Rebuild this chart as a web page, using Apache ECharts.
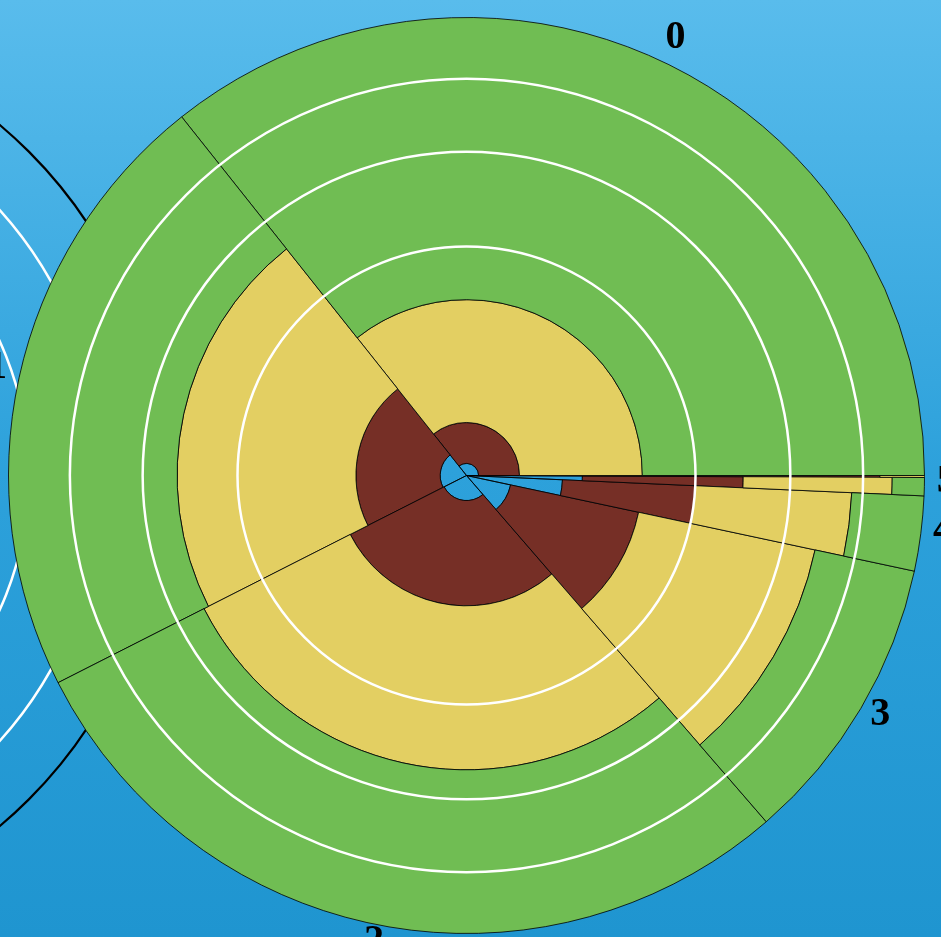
<!DOCTYPE html>
<html>
<head>
<meta charset="utf-8">
<script src="https://cdn.jsdelivr.net/npm/echarts@6/dist/echarts.min.js"></script>
<style>html,body{margin:0;padding:0;overflow:hidden;}#c{width:941px;height:937px;}</style>
</head>
<body>
<div id="c"></div>
<script>
// ---- data (percent shares) ----
const categories = ['0', '1', '2', '3', '4', '5', '6'];
const categoryWidths = [35.7, 21.8, 28.9, 10.3, 2.64, 0.64, 0.07];
const blueValues   = [0.07, 0.33, 0.3, 0.97, 4.4, 6.4, 6.3];
const brownValues  = [1.27, 5.5, 7.8, 13.8, 20.6, 30.1, 75.2];
const yellowValues = [13.4, 34.1, 33.2, 45.8, 45.9, 49.9, 18.5];
const greenValues  = [85.26, 60.07, 58.7, 39.43, 29.1, 13.6, 0];
const ringLevels = [25, 50, 75];
const outerLevel = [100];

const stackSeries = [
  { name: 's1', values: blueValues,   fill: 'rgba(0,0,0,0)' },
  { name: 's2', values: brownValues,  fill: '#762f26' },
  { name: 's3', values: yellowValues, fill: '#e3cf62' },
  { name: 's4', values: greenValues,  fill: '#70bd53' }
];

const totalWidth = categoryWidths.reduce((a, b) => a + b, 0);
const angleStarts = [];
(function () { let s = 0; categoryWidths.forEach(w => { angleStarts.push(s); s += w; }); })();

// radial axis is area proportional: axis runs in sqrt(percent) units 0..10
function rad(v) { return Math.sqrt(Math.max(v, 0)); }
function dist(p, c) { return Math.hypot(p[0] - c[0], p[1] - c[1]); }
function ang(p, c) { return Math.atan2(p[1] - c[1], p[0] - c[0]); }

function makeStack(si) {
  const s = stackSeries[si];
  const data = categories.map((c, i) => {
    let base = 0;
    for (let k = 0; k < si; k++) base += stackSeries[k].values[i];
    return [rad(base + s.values[i]), angleStarts[i] + categoryWidths[i] / 2, i, base, base + s.values[i]];
  });
  return {
    type: 'custom', name: s.name, coordinateSystem: 'polar', polarIndex: 0,
    z: 2 + si, silent: true, clip: false,
    data: data,
    renderItem: function (params, api) {
      const i = api.value(2), base = api.value(3), top = api.value(4);
      if (top - base <= 0) return null;
      const a1 = angleStarts[i], a2 = a1 + categoryWidths[i];
      const c = api.coord([0, a1]);
      const r0 = dist(api.coord([rad(base), a1]), c);
      const r1 = dist(api.coord([rad(top), a1]), c);
      let sa = ang(api.coord([10, a2]), c);
      let ea = ang(api.coord([10, a1]), c);
      while (ea < sa) ea += Math.PI * 2;
      return {
        type: 'sector',
        shape: { cx: c[0], cy: c[1], r0: r0, r: r1, startAngle: sa, endAngle: ea, clockwise: true },
        style: { fill: s.fill, stroke: '#000', lineWidth: 0.8 }
      };
    }
  };
}

function ringSeries(polarIndex, levels, color, width, z) {
  return {
    type: 'custom', coordinateSystem: 'polar', polarIndex: polarIndex, z: z, silent: true, clip: false,
    data: levels.map(v => [rad(v), 0, v]),
    renderItem: function (params, api) {
      const v = api.value(2);
      const c = api.coord([0, 0]);
      const r = dist(api.coord([rad(v), 0]), c);
      return { type: 'circle', shape: { cx: c[0], cy: c[1], r: r },
        style: { fill: 'none', stroke: color, lineWidth: width } };
    }
  };
}

const labelSeries = {
  type: 'custom', coordinateSystem: 'polar', polarIndex: 0, z: 20, silent: true, clip: false,
  data: categories.map((c, i) => [10, angleStarts[i] + categoryWidths[i] / 2, i]),
  renderItem: function (params, api) {
    const i = api.value(2);
    if (categoryWidths[i] < 0.2) return null; // hidden: overlaps its neighbour
    const mid = api.value(1);
    const c = api.coord([0, mid]);
    const p = api.coord([10, mid]);
    const R = dist(p, c);
    const ux = (p[0] - c[0]) / R, uy = (p[1] - c[1]) / R;
    const off = 22.5;
    return {
      type: 'text',
      x: c[0] + ux * (R + off), y: c[1] + uy * (R + off) - 5.5,
      style: { text: categories[i], fill: '#000', fontSize: 40, fontWeight: 'bold',
        fontFamily: '"Liberation Serif", "Times New Roman", serif', align: 'center', verticalAlign: 'middle' }
    };
  }
};

const chart = echarts.init(document.getElementById('c'), null, { renderer: 'canvas' });
const hiddenAngle = (pi) => ({ polarIndex: pi, type: 'value', min: 0, max: totalWidth, startAngle: 0, clockwise: false,
  axisLine: { show: false }, axisTick: { show: false }, axisLabel: { show: false }, splitLine: { show: false } });
const hiddenRadius = (pi) => ({ polarIndex: pi, type: 'value', min: 0, max: 10,
  axisLine: { show: false }, axisTick: { show: false }, axisLabel: { show: false }, splitLine: { show: false } });

chart.setOption({
  animation: false,
  graphic: [{
    type: 'rect', z: -10, silent: true,
    shape: { x: 0, y: 0, width: 941, height: 937 },
    style: { fill: new echarts.graphic.LinearGradient(0, 0, 0, 1, [
      { offset: 0, color: '#59bcec' }, { offset: 0.5, color: '#2da1db' }, { offset: 1, color: '#1f95d0' }]) }
  }],
  polar: [
    { center: [466.5, 475.5], radius: [0, 458] },
    { center: [-295, 475.5], radius: [0, 458] }
  ],
  angleAxis: [hiddenAngle(0), hiddenAngle(1)],
  radiusAxis: [hiddenRadius(0), hiddenRadius(1)],
  series: [
    ringSeries(1, ringLevels, '#ffffff', 2.5, 1),
    ringSeries(1, outerLevel, '#000000', 2.2, 1),
    makeStack(0), makeStack(1), makeStack(2), makeStack(3),
    ringSeries(0, ringLevels, '#ffffff', 2.5, 10),
    labelSeries
  ]
});
</script>
</body>
</html>
